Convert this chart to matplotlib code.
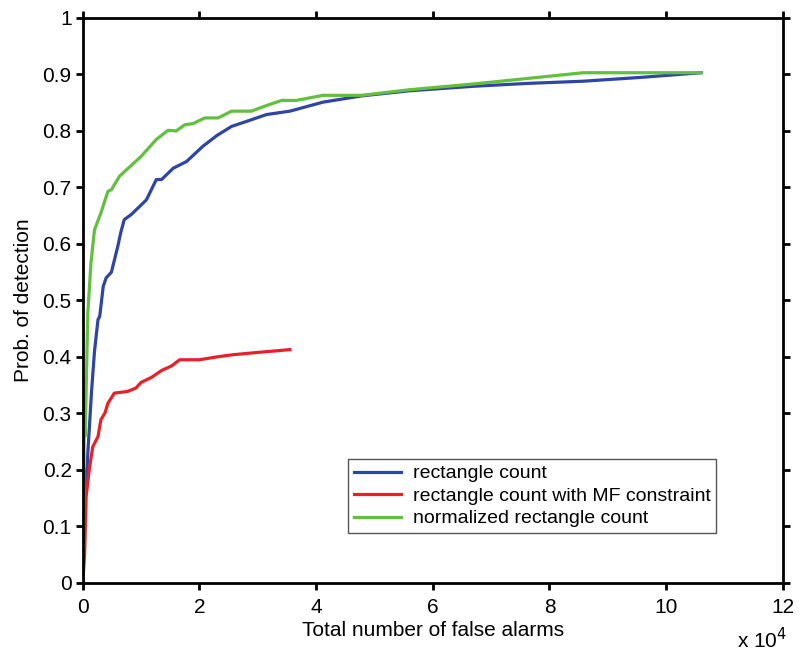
import matplotlib
matplotlib.use("Agg")
import matplotlib.pyplot as plt
import numpy as np

# 곡선 데이터 (x 단위: 10^4 건)
blue_x = [0.0, 0.03, 0.057, 0.086, 0.15, 0.2, 0.26, 0.29, 0.35, 0.4, 0.49, 0.6, 0.65, 0.71,
          0.83, 0.98, 1.09, 1.26, 1.35, 1.55, 1.78, 2.06, 2.3, 2.55, 2.81, 3.15, 3.55,
          4.12, 4.78, 5.6, 6.69, 7.6, 8.58, 9.6, 10.6]
blue_y = [0.0, 0.2, 0.17, 0.23, 0.34, 0.41, 0.466, 0.472, 0.525, 0.54, 0.55, 0.596, 0.62, 0.643,
          0.652, 0.667, 0.678, 0.714, 0.714, 0.734, 0.746, 0.773, 0.792, 0.808, 0.817, 0.829, 0.835,
          0.851, 0.862, 0.871, 0.879, 0.884, 0.888, 0.895, 0.903]

red_x = [0.0, 0.03, 0.057, 0.11, 0.17, 0.26, 0.31, 0.38, 0.43, 0.54, 0.77, 0.91, 1.0,
         1.18, 1.35, 1.52, 1.66, 2.0, 2.29, 2.58, 3.0, 3.55]
red_y = [0.0, 0.05, 0.153, 0.2, 0.241, 0.259, 0.289, 0.301, 0.318, 0.336, 0.339, 0.345, 0.355,
         0.364, 0.376, 0.384, 0.395, 0.395, 0.4, 0.404, 0.408, 0.413]

green_x = [0.0, 0.03, 0.04, 0.086, 0.14, 0.2, 0.31, 0.43, 0.49, 0.63, 0.81, 1.0, 1.26, 1.46,
           1.6, 1.75, 1.89, 2.09, 2.32, 2.55, 2.89, 3.15, 3.41, 3.66, 4.12, 4.78, 5.61,
           6.69, 8.58, 10.6]
green_y = [0.0, 0.36, 0.26, 0.478, 0.567, 0.625, 0.655, 0.693, 0.696, 0.72, 0.737, 0.755, 0.785, 0.801,
           0.80, 0.811, 0.813, 0.823, 0.823, 0.835, 0.835, 0.845, 0.854, 0.854, 0.863, 0.863, 0.873,
           0.883, 0.903, 0.903]

labels = ["rectangle count", "rectangle count with MF constraint", "normalized rectangle count"]
colors = ["#2e45a6", "#e8202a", "#62bf3f"]
ytick_labels = ["0", "0.1", "0.2", "0.3", "0.4", "0.5", "0.6", "0.7", "0.8", "0.9", "1"]

plt.rcParams["font.family"] = ["Liberation Sans", "DejaVu Sans"]

fig = plt.figure(figsize=(8.12, 6.54), dpi=100)
ax = fig.add_axes([0.102, 0.1086, 0.862, 0.864])

ax.plot(blue_x, blue_y, color=colors[0], lw=2.3, label=labels[0])
ax.plot(red_x, red_y, color=colors[1], lw=2.3, label=labels[1])
ax.plot(green_x, green_y, color=colors[2], lw=2.3, label=labels[2])

ax.set_xlim(0, 12)
ax.set_ylim(0, 1)
ax.set_xticks(np.arange(0, 13, 2))
ax.set_yticks(np.arange(0, 1.01, 0.1))
ax.set_yticklabels(ytick_labels)
ax.tick_params(direction="out", length=5, width=2, labelsize=15, top=True, right=True)
ax.tick_params(axis="x", pad=6)
ax.tick_params(axis="y", pad=3)
for s in ax.spines.values():
    s.set_linewidth(2)

ax.set_xlabel("Total number of false alarms", fontsize=15, labelpad=3)
ax.set_ylabel("Prob. of detection", fontsize=15, labelpad=7)
ax.text(0.97, -0.101, r"x 10$^4$", transform=ax.transAxes, fontsize=15, ha="center", va="center")

leg = ax.legend(loc="lower right", bbox_to_anchor=(0.905, 0.088),
                prop={"family": "Liberation Sans", "size": 14},
                fancybox=False, framealpha=1, edgecolor="#555555", handlelength=2.4,
                borderaxespad=0, labelspacing=0.25, handletextpad=0.6, borderpad=0.3)
leg.get_frame().set_linewidth(1)

fig.savefig("out.png", dpi=100)
